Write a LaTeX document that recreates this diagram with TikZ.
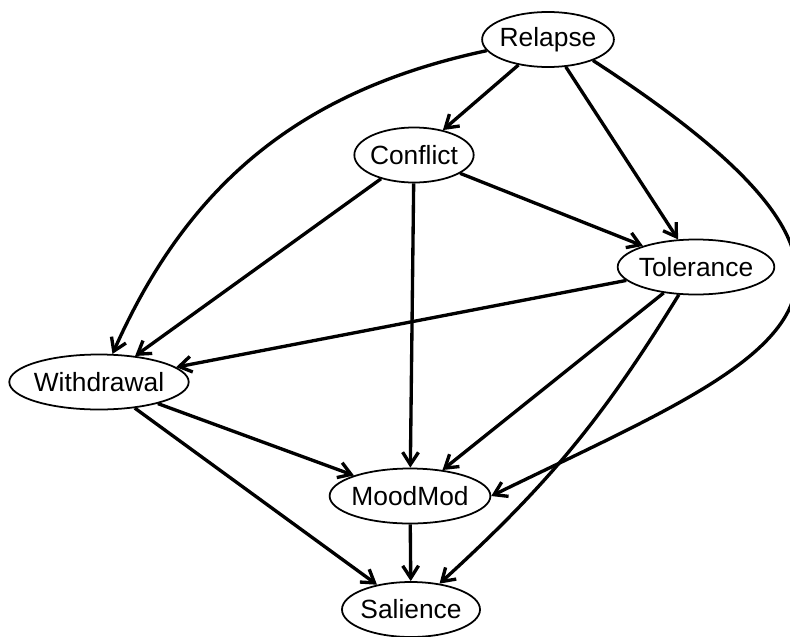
\documentclass[tikz,border=0pt]{standalone}
\usepackage{fontspec}
\setmainfont{Liberation Sans}
\usetikzlibrary{shapes.geometric, arrows.meta}
\tikzset{
  var/.style={draw, ellipse, line width=1pt, inner xsep=-1pt, inner ysep=0pt,
    minimum height=1.1cm, font=\fontsize{15}{18}\selectfont},
  link/.style={line width=1.9pt, -{Straight Barb[length=7pt,width=9pt]}}
}

\begin{document}
\begin{tikzpicture}
    \useasboundingbox (0,0) rectangle (15.8,12.72);

    % variables
    \node[var] (relapse)    at (10.96,11.93) {Relapse};
    \node[var] (conflict)   at (8.28,9.62)   {Conflict};
    \node[var] (tolerance)  at (13.92,7.38)  {Tolerance};
    \node[var] (withdrawal) at (1.98,5.08)   {Withdrawal};
    \node[var] (moodmod)    at (8.2,2.8)     {MoodMod};
    \node[var] (salience)   at (8.22,0.53)   {Salience};

    % from relapse
    \draw[link] (relapse) -- (conflict);
    \draw[link] (relapse) -- (tolerance);
    \draw[link] (relapse) to[bend right=27] (withdrawal);
    \draw[link] (relapse.-25) to[out=-33, in=26, out looseness=2.5, in looseness=1.8] (moodmod.east);

    % from conflict
    \draw[link] (conflict) -- (tolerance);
    \draw[link] (conflict) -- (withdrawal);
    \draw[link] (conflict) -- (moodmod);

    % from tolerance
    \draw[link] (tolerance) -- (withdrawal);
    \draw[link] (tolerance) -- (moodmod);
    \draw[link] (tolerance) to[bend left=8] (salience);

    % lower part
    \draw[link] (withdrawal) -- (moodmod);
    \draw[link] (withdrawal) -- (salience);
    \draw[link] (moodmod) -- (salience);
\end{tikzpicture}
\end{document}
